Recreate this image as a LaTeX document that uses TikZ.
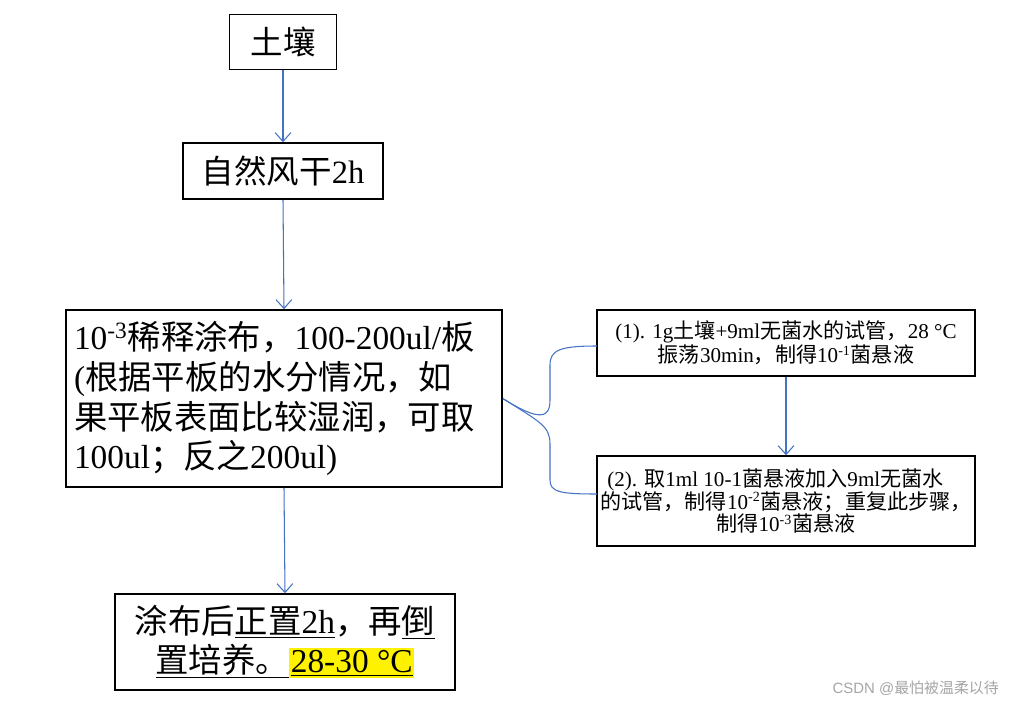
\documentclass[tikz,border=0pt]{standalone}
\usepackage{fontspec}
\usetikzlibrary{arrows.meta}
\setmainfont{Liberation Serif}
\newfontfamily\cjk{Noto Sans CJK SC}
\newfontfamily\wm{Liberation Sans}
\newcommand{\C}[1]{{\cjk #1}}
\definecolor{ln}{RGB}{68,114,196}
\begin{document}
\begin{tikzpicture}[x=0.02cm,y=-0.02cm,
  box/.style={draw,line width=0.9pt,inner sep=0pt},
  arr/.style={draw=ln,line width=0.6pt,-{Straight Barb[length=5pt,width=9pt]}},
  brc/.style={draw=ln,line width=0.6pt}]
\useasboundingbox (0,0) rectangle (1020,706);
\fill[white] (0,0) rectangle (1020,706);
\node[box,minimum width=107*0.02cm,minimum height=55*0.02cm,font=\fontsize{18.5}{22}\selectfont] (a) at (283,42) {\C{土壤}};
\node[box,minimum width=200*0.02cm,minimum height=56*0.02cm,font=\fontsize{18.5}{22}\selectfont] (b) at (283,171) {\C{自然风干}2h};
\node[box,minimum width=436*0.02cm,minimum height=177*0.02cm,font=\fontsize{19}{22.7}\selectfont,align=left,text width=420*0.02cm] (c) at (284,398.5)
{10\textsuperscript{-3}\C{稀释涂布，}100-200ul/\C{板}\\
(\C{根据平板的水分情况，如}\\
\C{果平板表面比较湿润，可取}\\
100ul\C{；反之}200ul)};
\node[box,minimum width=378*0.02cm,minimum height=66*0.02cm,font=\fontsize{12}{12}\selectfont,align=center] (d) at (786,343)
{(1). 1g\C{土壤}+9ml\C{无菌水的试管，}28 \textdegree C\\ \C{振荡}30min\C{，制得}10\textsuperscript{-1}\C{菌悬液}};
\node[box,minimum width=378*0.02cm,minimum height=90*0.02cm,font=\fontsize{12}{13}\selectfont,align=center] (e) at (786,501)
{(2). \C{取}1ml 10-1\C{菌悬液加入}9ml\C{无菌水}\phantom{\C{，}}\\ \C{的试管，制得}10\textsuperscript{-2}\C{菌悬液；重复此步骤，}\\ \C{制得}10\textsuperscript{-3}\C{菌悬液}};
\node[box,minimum width=340*0.02cm,minimum height=96*0.02cm,font=\fontsize{19}{22}\selectfont,align=center] (f) at (285,642)
{\C{涂布后}\underline{\C{正置}2h}\C{，再}\underline{\C{倒}}\\ \underline{\C{置培养。}}{\fboxsep=1pt\colorbox{yellow}{\underline{28-30 \textdegree C}}}};
\node[text=gray!70,font=\wm\fontsize{8.5}{10}\selectfont,anchor=east] (w) at (1005,688) {CSDN @\C{最怕被温柔以待}};
\draw[arr] (a.south) -- (b.north);
\draw[arr] (b.south) -- (c.north);
\draw[arr] (c.south) -- (f.north);
\draw[arr] (d.south) -- (e.north);
\coordinate (m) at (c.east);
\draw[brc] (m) .. controls (540,422) and (550,418) .. (550,400) -- (550,365) .. controls (550,350) and (560,346) .. (597,346);
\draw[brc] (m) .. controls (540,422) and (550,426) .. (550,444) -- (550,480) .. controls (550,492) and (560,494) .. (597,494);
\end{tikzpicture}
\end{document}
